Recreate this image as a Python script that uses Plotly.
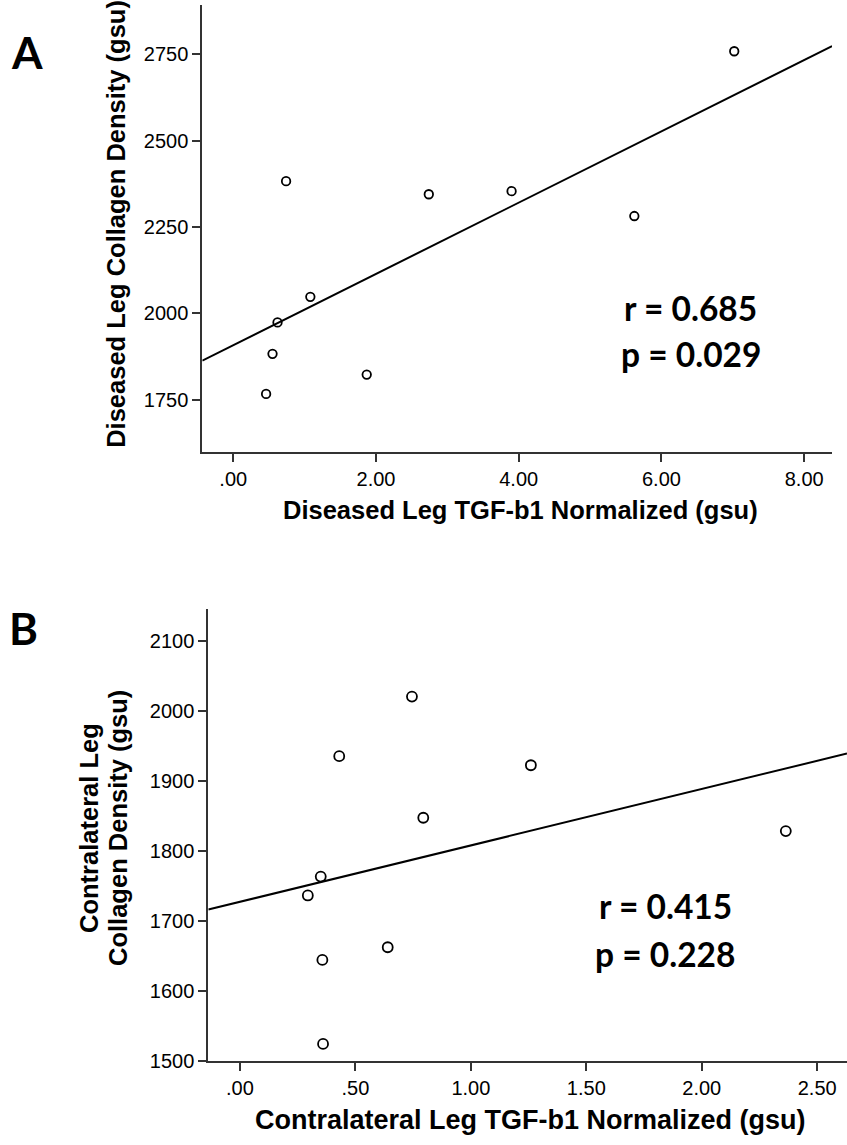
import numpy as np
import plotly.graph_objects as go

# ---------------- data ----------------
# Panel A: diseased leg
a_tgf = [0.74, 2.74, 3.90, 5.62, 7.02, 1.08, 0.62, 0.55, 0.46, 1.87]
a_collagen = [2383, 2345, 2354, 2282, 2759, 2048, 1974, 1883, 1767, 1823]
a_xticks = [0, 2, 4, 6, 8]
a_xticktext = [".00", "2.00", "4.00", "6.00", "8.00"]
a_yticks = [1750, 2000, 2250, 2500, 2750]
a_yticktext = ["1750", "2000", "2250", "2500", "2750"]
a_stats = ["r = 0.685", "p = 0.029"]

# Panel B: contralateral leg
b_tgf = [0.745, 0.43, 1.26, 0.794, 2.364, 0.35, 0.294, 0.64, 0.357, 0.36]
b_collagen = [2021, 1936, 1923, 1848, 1829, 1764, 1737, 1663, 1645, 1525]
b_xticks = [0, 0.5, 1.0, 1.5, 2.0, 2.5]
b_xticktext = [".00", ".50", "1.00", "1.50", "2.00", "2.50"]
b_yticks = [1500, 1600, 1700, 1800, 1900, 2000, 2100]
b_yticktext = ["1500", "1600", "1700", "1800", "1900", "2000", "2100"]
b_stats = ["r = 0.415", "p = 0.228"]

# ---------------- layout constants ----------------
W, H = 847, 1145
a_xrange = [-0.434, 8.39]
a_yrange = [1600, 2893]
b_xrange = [-0.137, 2.629]
b_yrange = [1500, 2146]

def px(x):
    return x / W

def py(y):
    return 1 - y / H

fig = go.Figure()

marker_a = dict(symbol="circle-open", size=8.5, color="black", line=dict(width=1.8, color="black"))
marker_b = dict(symbol="circle-open", size=10, color="black", line=dict(width=1.8, color="black"))

fig.add_trace(go.Scatter(x=a_tgf, y=a_collagen, mode="markers", marker=marker_a,
                         xaxis="x", yaxis="y", showlegend=False))
ka = np.polyfit(a_tgf, a_collagen, 1)
fig.add_trace(go.Scatter(x=a_xrange, y=list(np.polyval(ka, a_xrange)), mode="lines",
                         line=dict(color="black", width=2), xaxis="x", yaxis="y",
                         showlegend=False))

fig.add_trace(go.Scatter(x=b_tgf, y=b_collagen, mode="markers", marker=marker_b,
                         xaxis="x2", yaxis="y2", showlegend=False))
kb = np.polyfit(b_tgf, b_collagen, 1)
fig.add_trace(go.Scatter(x=b_xrange, y=list(np.polyval(kb, b_xrange)), mode="lines",
                         line=dict(color="black", width=2), xaxis="x2", yaxis="y2",
                         showlegend=False))

tickfont = dict(family="Liberation Sans, Arial, sans-serif", size=20, color="black")
axis_common = dict(showgrid=False, zeroline=False, showline=True, linecolor="#333333",
                   linewidth=2, ticks="outside", ticklen=8, tickwidth=1.5,
                   tickcolor="#333333", tickfont=tickfont)

fig.update_layout(
    width=W, height=H,
    margin=dict(l=0, r=0, t=0, b=0),
    paper_bgcolor="white", plot_bgcolor="white",
    xaxis=dict(domain=[px(202.3), px(832)], range=a_xrange, anchor="y",
               tickvals=a_xticks, ticktext=a_xticktext, **axis_common),
    yaxis=dict(domain=[py(456), py(5)], range=a_yrange, anchor="x",
               tickvals=a_yticks, ticktext=a_yticktext, **axis_common),
    xaxis2=dict(domain=[px(208.3), 1.0], range=b_xrange, anchor="y2",
                tickvals=b_xticks, ticktext=b_xticktext, **axis_common),
    yaxis2=dict(domain=[py(1071.7), py(615)], range=b_yrange, anchor="x2",
                tickvals=b_yticks, ticktext=b_yticktext, **axis_common),
)

title_font = dict(family="Liberation Sans, Arial, sans-serif", size=25.5, color="black")
title_font_b = dict(family="Liberation Sans, Arial, sans-serif", size=27, color="black")
label_font = dict(family="Lato, Open Sans, sans-serif", size=44, color="black")
stat_font = dict(family="Lato, Open Sans, sans-serif", size=33.5, color="black")

annotations = [
    dict(text="<b>A</b>", x=px(27), y=py(53), font=label_font),
    dict(text="<b>B</b>", x=px(23.5), y=py(634), font=label_font),
    dict(text="<b>Diseased Leg TGF-b1 Normalized (gsu)</b>", x=px(520), y=py(515), font=title_font),
    dict(text="<b>Diseased Leg Collagen Density (gsu)</b>", x=px(116), y=py(226),
         font=title_font, textangle=-90),
    dict(text="<b>Contralateral Leg TGF-b1 Normalized (gsu)</b>", x=px(530), y=py(1131), font=title_font_b),
    dict(text="<b>Contralateral Leg</b>", x=px(89), y=py(836), font=title_font, textangle=-90),
    dict(text="<b>Collagen Density (gsu)</b>", x=px(118), y=py(836), font=title_font, textangle=-90),
    dict(text="<b>" + a_stats[0] + "</b>", x=px(690), y=py(311), font=stat_font),
    dict(text="<b>" + a_stats[1] + "</b>", x=px(691), y=py(357), font=stat_font),
    dict(text="<b>" + b_stats[0] + "</b>", x=px(665), y=py(915), font=stat_font),
    dict(text="<b>" + b_stats[1] + "</b>", x=px(665), y=py(963), font=stat_font),
]
for a in annotations:
    a.update(xref="paper", yref="paper", xanchor="center", yanchor="middle", showarrow=False)
fig.update_layout(annotations=annotations)

fig.write_html("out.html")
